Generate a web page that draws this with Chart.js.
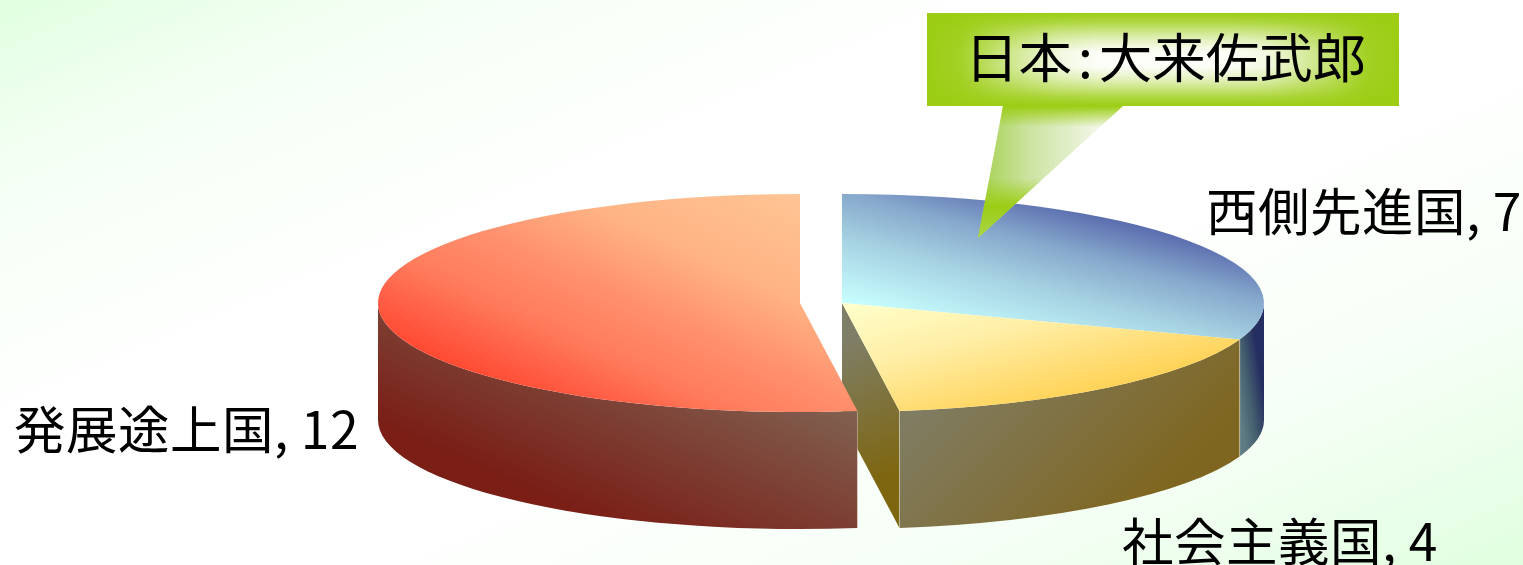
<!DOCTYPE html>
<html lang="ja">
<head>
<meta charset="utf-8">
<title>3D pie</title>
<style>
  html, body { margin: 0; padding: 0; width: 1523px; height: 565px; overflow: hidden; }
  body { background: linear-gradient(157deg, #e0ffe0 0%, #f4fff4 14%, #ffffff 36%, #ffffff 58%, #f5fff5 80%, #e0ffe0 100%); }
  canvas { display: block; }
</style>
<script src="https://cdn.jsdelivr.net/npm/chart.js@4/dist/chart.umd.js"></script>
</head>
<body>
<canvas id="pie" width="1523" height="565"></canvas>
<script>
// Chart values
const categories = ['西側先進国', '社会主義国', '発展途上国'];
const seats = [7, 4, 12];
const calloutText = '日本:大来佐武郎';

// Tilted-disc geometry, in page pixels
const RX = 422, RY = 109, DEPTH = 117, DISC_Y = 303;
const discX = [842, 842, 800];

// Top faces: gradient along a unit-circle direction, stops placed along the radius
const topStyles = [
  { dir: [0.7071, -0.7071], from: 0, to: 1, stops: [[0, '#c8ffff'], [0.42, '#a6d2e2'], [0.72, '#86a8cc'], [1, '#5a6cae']] },
  { dir: [0.7071, 0.7071], from: 0, to: 1, stops: [[0, '#ffffcc'], [0.45, '#ffeea6'], [1, '#ffd256']] },
  { dir: [-0.87, 0.49], from: -0.5, to: 1, stops: [[0, '#ffc595'], [0.33, '#ffb384'], [0.573, '#ff8e6c'], [0.747, '#ff7c5c'], [0.893, '#ff5e46'], [1, '#ff4a32']] }
];

// Side walls: page-space gradient lines
const wallStyles = [
  { line: [1238, 400, 1264, 396], stops: [[0, '#5e7c84'], [0.45, '#46606f'], [1, '#252e60']] },
  { line: [930, 400, 1090, 560], stops: [[0, '#807c62'], [1, '#7f6620']] },
  { line: [540, 495, 623, 310], stops: [[0, '#7a1e16'], [1, '#806050']] }
];
const cutFaceStyle = { line: [842, 340, 900, 470], stops: [[0, '#7f7f68'], [1, '#7e6610']] };

function linear(ctx, line, stops) {
  const g = ctx.createLinearGradient(line[0], line[1], line[2], line[3]);
  stops.forEach(s => g.addColorStop(s[0], s[1]));
  return g;
}

// Arc element that lays itself on a tilted disc and extrudes a side wall
class Arc3D extends Chart.ArcElement {
  static id = 'arc3d';
  draw(ctx) {
    const i = this.$index;
    const cx = discX[i];
    const s = this.startAngle, e = this.endAngle;

    // Cut face shown where the next slice is pulled away from this one
    const next = discX[i + 1];
    if (next !== undefined && next !== cx && Math.cos(e) > 0) {
      const rx = cx + RX * Math.cos(e), ry = DISC_Y + RY * Math.sin(e);
      ctx.beginPath();
      ctx.moveTo(cx, DISC_Y);
      ctx.lineTo(rx, ry);
      ctx.lineTo(rx, ry + DEPTH);
      ctx.lineTo(cx, DISC_Y + DEPTH);
      ctx.closePath();
      ctx.fillStyle = linear(ctx, cutFaceStyle.line, cutFaceStyle.stops);
      ctx.fill();
    }

    // Outer wall for the part of the rim that faces the viewer
    const a0 = Math.max(s, 0), a1 = Math.min(e, Math.PI);
    if (a1 > a0) {
      ctx.beginPath();
      ctx.ellipse(cx, DISC_Y, RX, RY, 0, a0, a1);
      ctx.ellipse(cx, DISC_Y + DEPTH, RX, RY, 0, a1, a0, true);
      ctx.closePath();
      ctx.fillStyle = linear(ctx, wallStyles[i].line, wallStyles[i].stops);
      ctx.fill();
      // Pale hairline on the wall's vertical edges
      ctx.strokeStyle = 'rgba(255,255,240,0.35)';
      ctx.lineWidth = 1;
      [a0, a1].forEach(a => {
        if (a <= 0.001 || a >= Math.PI - 0.001) return;
        const x = cx + RX * Math.cos(a), y = DISC_Y + RY * Math.sin(a);
        ctx.beginPath();
        ctx.moveTo(x, y);
        ctx.lineTo(x, y + DEPTH);
        ctx.stroke();
      });
    }

    // Top face: the stock arc, squashed onto the disc
    ctx.save();
    ctx.translate(cx, DISC_Y);
    ctx.scale(1, RY / RX);
    ctx.translate(-this.x, -this.y);
    super.draw(ctx);
    ctx.restore();
  }
}

class Pie3DController extends Chart.PieController {
  static id = 'pie3d';
  static defaults = { dataElementType: 'arc3d' };
  updateElements(arcs, start, count, mode) {
    super.updateElements(arcs, start, count, mode);
    arcs.forEach((arc, k) => { arc.$index = start + k; });
  }
}
Chart.register(Arc3D, Pie3DController);

// Callout: white box with green washing in from each edge, plus a pointed tail
function drawCallout(ctx) {
  const x0 = 927, y0 = 13, x1 = 1399, y1 = 106;
  const green = a => 'rgba(156,205,20,' + a + ')';
  const fade = [[0, 1], [0.07, 0.92], [0.155, 0.55], [0.28, 0.1], [0.36, 0], [0.64, 0], [0.72, 0.1], [0.845, 0.55], [0.93, 0.92], [1, 1]];
  const band = [[0, 1], [0.1, 0.8], [0.2, 0.5], [0.3, 0.25], [0.42, 0.03], [0.58, 0.03], [0.7, 0.25], [0.8, 0.5], [0.9, 0.8], [1, 1]];
  ctx.fillStyle = '#fff';
  ctx.fillRect(x0, y0, x1 - x0, y1 - y0);
  ctx.fillStyle = linear(ctx, [x0, 0, x1, 0], fade.map(s => [s[0], green(s[1])]));
  ctx.fillRect(x0, y0, x1 - x0, y1 - y0);
  ctx.fillStyle = linear(ctx, [0, y0, 0, y1], band.map(s => [s[0], green(s[1])]));
  ctx.fillRect(x0, y0, x1 - x0, y1 - y0);

  const tail = new Path2D();
  tail.moveTo(1003, y1);
  tail.lineTo(1123, y1);
  tail.lineTo(978, 238);
  tail.closePath();
  ctx.fillStyle = linear(ctx, [990, 150, 1100, 150], [[0, '#aed561'], [0.35, '#cbe3a0'], [1, '#f2f7e8']]);
  ctx.fill(tail);
  ctx.fillStyle = linear(ctx, [0, y1, 0, 238], [
    [0, green(1)], [0.16, green(0)], [0.55, green(0)], [0.76, green(1)], [1, 'rgba(170,212,70,0.9)']
  ]);
  ctx.fill(tail);

  ctx.fillStyle = '#000';
  ctx.font = '53.5px "Noto Sans Mono CJK JP", "Noto Sans CJK JP", sans-serif';
  ctx.textAlign = 'left';
  ctx.textBaseline = 'alphabetic';
  ctx.fillText(calloutText, 965, 78);
}

// Category and value labels beside the disc
const labelAnchors = [[1206, 231], [1122, 561], [14, 449]];
const overlays = {
  id: 'overlays',
  afterDatasetsDraw(chart) {
    const ctx = chart.ctx;
    ctx.save();
    drawCallout(ctx);
    ctx.fillStyle = '#000';
    ctx.font = '51.5px "Noto Sans CJK JP", sans-serif';
    ctx.letterSpacing = '0.5px';
    ctx.textAlign = 'left';
    ctx.textBaseline = 'alphabetic';
    categories.forEach((name, i) => {
      ctx.fillText(name + ', ' + seats[i], labelAnchors[i][0], labelAnchors[i][1]);
    });
    ctx.restore();
  }
};

new Chart(document.getElementById('pie'), {
  type: 'pie3d',
  data: {
    labels: categories,
    datasets: [{
      data: seats,
      borderWidth: 0,
      clip: false,
      radius: RX,
      backgroundColor(c) {
        const area = c.chart.chartArea;
        if (!area || c.dataIndex === undefined) return '#ccc';
        const st = topStyles[c.dataIndex];
        const ox = (area.left + area.right) / 2, oy = (area.top + area.bottom) / 2;
        return linear(c.chart.ctx, [
          ox + st.dir[0] * RX * st.from, oy + st.dir[1] * RX * st.from,
          ox + st.dir[0] * RX * st.to, oy + st.dir[1] * RX * st.to
        ], st.stops);
      }
    }]
  },
  options: {
    responsive: false,
    animation: false,
    radius: RX,
    layout: { padding: 0 },
    plugins: { legend: { display: false }, tooltip: { enabled: false } },
    events: []
  },
  plugins: [overlays]
});
</script>
</body>
</html>
